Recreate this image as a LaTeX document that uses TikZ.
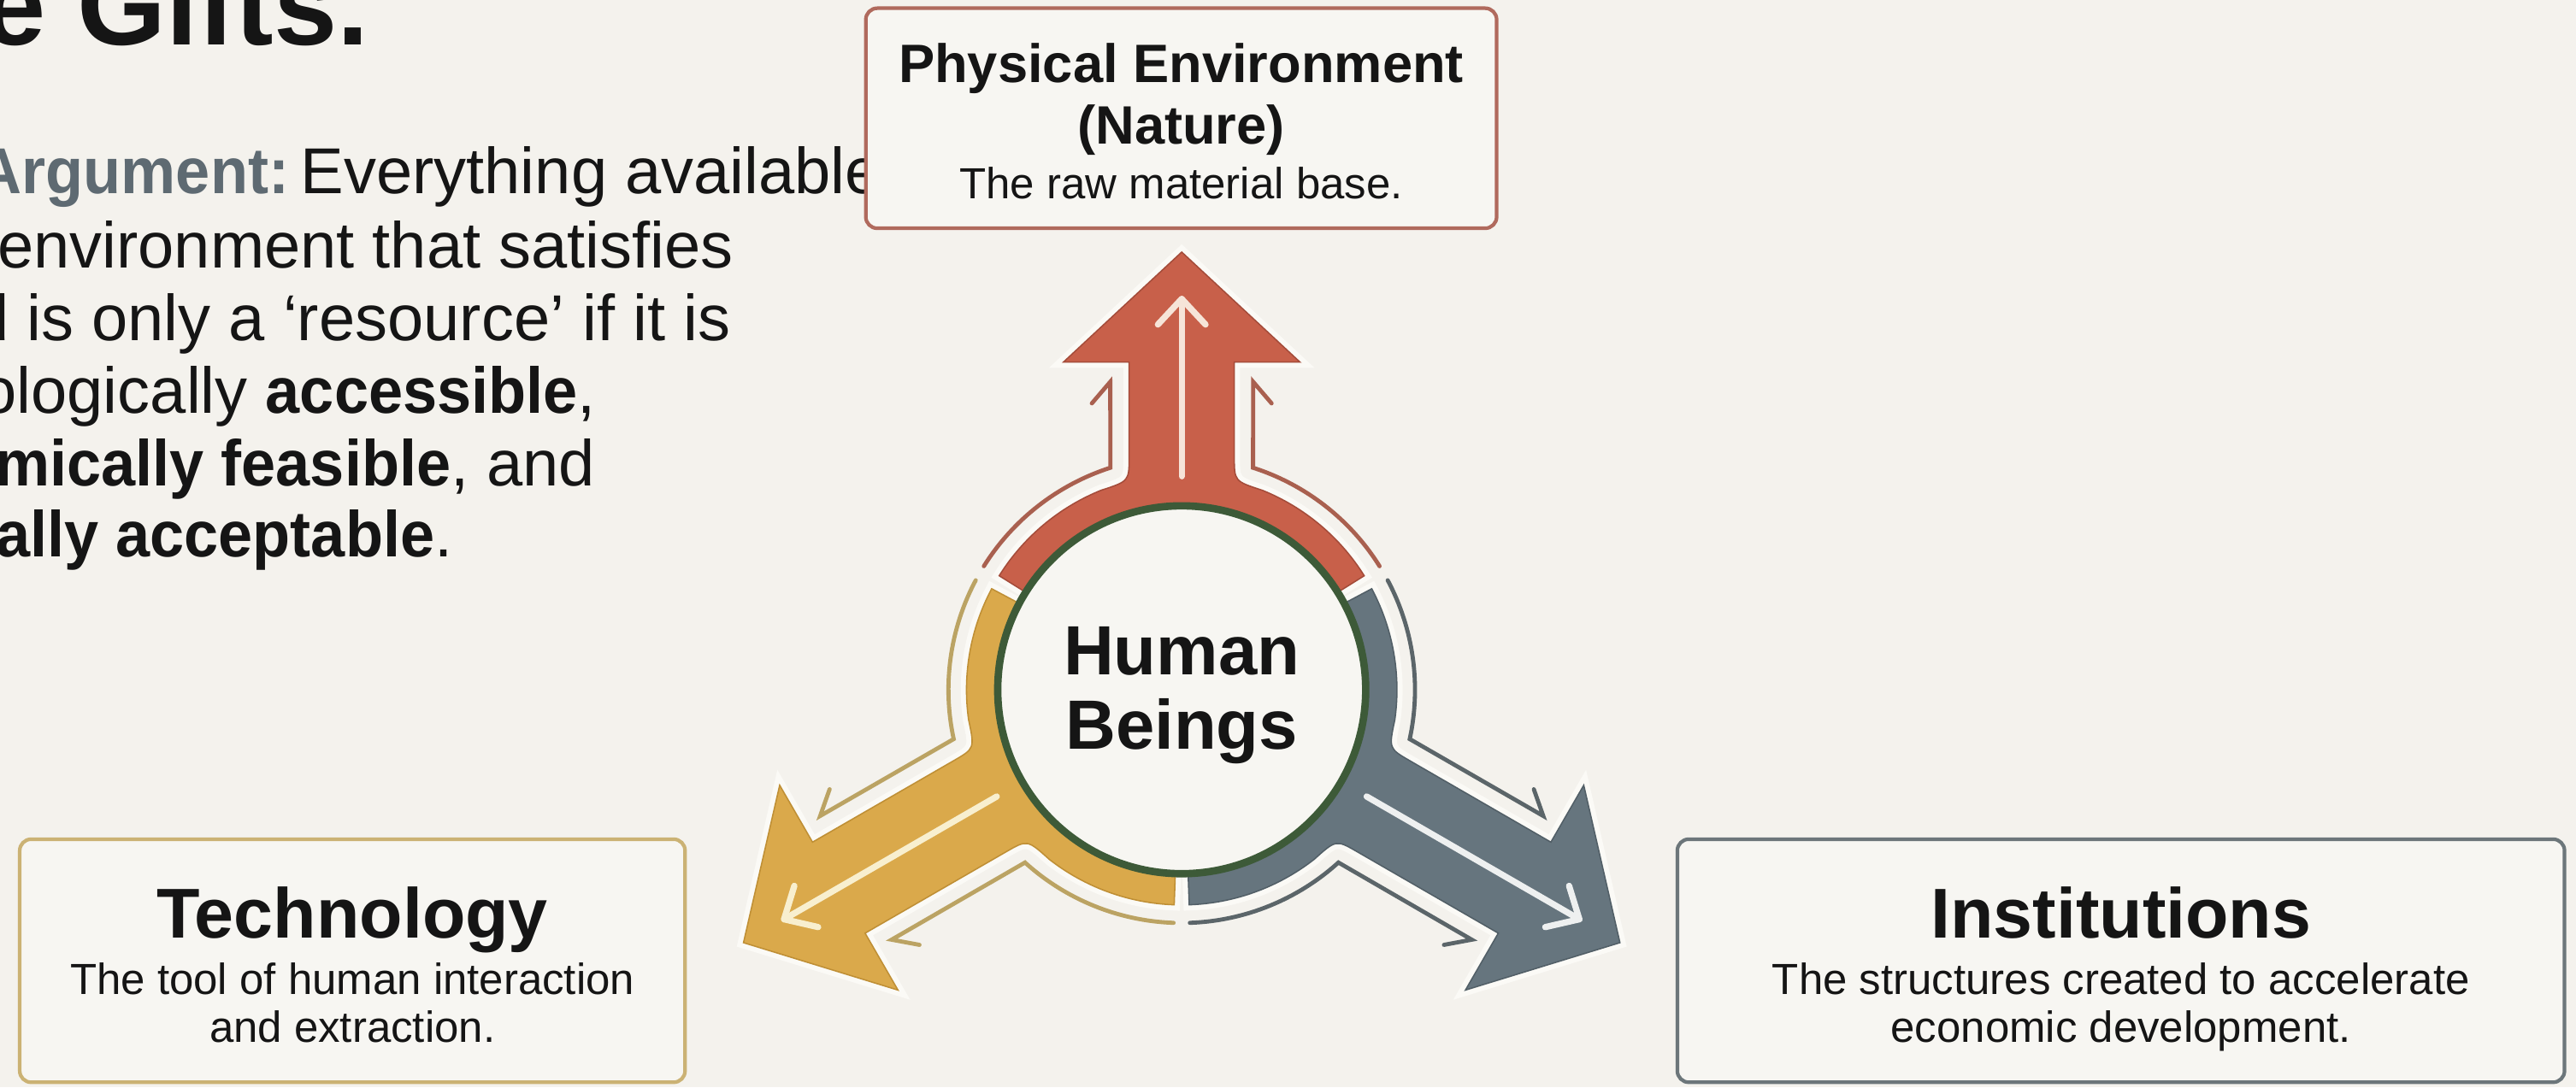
\documentclass[tikz,border=0pt]{standalone}
\usepackage{fontspec}
\setmainfont{Liberation Sans}
\newfontfamily\bodyfont[BoldFeatures={FakeStretch=0.95}]{Liberation Sans}

\definecolor{bgcol}{HTML}{F4F2ED}
\definecolor{panelfill}{HTML}{F7F6F2}
\definecolor{ink}{HTML}{151515}
\definecolor{argcol}{HTML}{5E6A72}
\definecolor{halocol}{HTML}{FBFAF6}
\definecolor{rustfill}{HTML}{C8604A}
\definecolor{rustedge}{HTML}{A44C3A}
\definecolor{rustthin}{HTML}{A9604F}
\definecolor{rustinner}{HTML}{F6E4D8}
\definecolor{goldfill}{HTML}{DAA94B}
\definecolor{goldedge}{HTML}{BF8F35}
\definecolor{goldthin}{HTML}{BBA363}
\definecolor{goldinner}{HTML}{F8EFCF}
\definecolor{slatefill}{HTML}{66757E}
\definecolor{slateedge}{HTML}{525F67}
\definecolor{slatethin}{HTML}{5B6569}
\definecolor{slateinner}{HTML}{EEF0F0}
\definecolor{ringgreen}{HTML}{3D5A38}
\definecolor{physedge}{HTML}{B06A5D}
\definecolor{techedge}{HTML}{CBB274}
\definecolor{instedge}{HTML}{6C767A}

% one spoke of the hub: band segment + block arrow + outline arrows
% #1 rotation, #2 tip distance, #3 fill, #4 edge, #5 thin lines, #6 inner line
\newcommand{\spokearrow}[6]{%
  \begin{scope}[shift={(hubc)}, rotate=#1]
    \pgfmathsetmacro{\tipd}{#2}
    \pgfmathsetmacro{\based}{#2-67}
    \pgfmathsetmacro{\barbd}{#2-79}
    \pgfmathsetmacro{\barbe}{#2-92.1}
    \pgfmathsetmacro{\innd}{#2-28.5}
    \pgfmathsetmacro{\chev}{#2-44.1}
    \path[fill=#3, draw=#4, line width=0.44pt, line join=miter,
          preaction={draw=halocol, line width=3.8pt}]
      (148:131) arc[start angle=148, end angle=112, radius=131]
      .. controls (-32,127) .. (-32,142)
      -- (-32,\based) -- (-72,\based) -- (0,\tipd) -- (72,\based) -- (32,\based)
      -- (32,142) .. controls (32,127) .. (68:131)
      arc[start angle=68, end angle=32, radius=131]
      -- (32:113) arc[start angle=32, end angle=148, radius=113] -- cycle;
    \draw[thinline, draw=#5] (148:142) arc[start angle=148, end angle=107.8, radius=142]
      -- (-43.5,\barbd) -- (-54.7,\barbe);
    \draw[thinline, draw=#5] (32:142) arc[start angle=32, end angle=72.2, radius=142]
      -- (43.5,\barbd) -- (54.7,\barbe);
    \draw[innerline, draw=#6] (0,130) -- (0,\innd);
    \draw[innerline, draw=#6] (-14.5,\chev) -- (0,\innd) -- (14.5,\chev);
  \end{scope}}

\begin{document}
\begin{tikzpicture}[x=0.54675pt, y=0.54675pt,
  thinline/.style={line width=1.37pt, line cap=round, line join=miter},
  innerline/.style={line width=2.08pt, line cap=round, line join=round},
  txt/.style={inner sep=0pt, outer sep=0pt, anchor=base, text=ink},
  bodyline/.style={inner sep=0pt, outer sep=0pt, anchor=base west, text=ink,
    font=\bodyfont\fontsize{21.6}{24}\selectfont},
  panel/.style={draw=#1, fill=panelfill, rounded corners=3.8pt, line width=1.2pt,
    inner sep=0pt},
  headtxt/.style={txt, font=\bfseries\fontsize{23.5}{26}\selectfont},
  subtxt/.style={txt, font=\fontsize{14.5}{16}\selectfont},
]
\useasboundingbox (0,0) rectangle (1568,662);
\clip (0,0) rectangle (1568,662);
\fill[bgcol] (0,0) rectangle (1568,662);

% heading and argument text
\node[inner sep=0pt, outer sep=0pt, anchor=base west, text=ink,
      font=\bfseries\fontsize{38}{40}\selectfont] (title) at (-10.9,634.5) {e Gifts.};

\node[inner sep=0pt, outer sep=0pt, anchor=base east, text=argcol,
      font=\bodyfont\bfseries\fontsize{21.6}{24}\selectfont] (argkey) at (176,544) {Argument:};
\node[bodyline] (line1) at (183,544) {Everything available};
\node[bodyline] (line2) at (-1.5,499) {environment that satisfies};
\node[bodyline] (line3) at (-16.5,454.7) {d is only a ‘resource’ if it is};
\node[bodyline] (line4) at (-11.7,410.5) {ologically \textbf{accessible},};
\node[bodyline] (line5) at (-3,366.3) {\textbf{mically feasible}, and};
\node[bodyline] (line6) at (-2.5,323) {\textbf{ally acceptable}.};

% hub and spokes
\coordinate (hubc) at (719.3,242);
\spokearrow{0}{266.5}{rustfill}{rustedge}{rustthin}{rustinner}
\spokearrow{120}{308}{goldfill}{goldedge}{goldthin}{goldinner}
\spokearrow{240}{308}{slatefill}{slateedge}{slatethin}{slateinner}

\node[circle, draw=ringgreen, line width=2.46pt, fill=panelfill,
      minimum size=122.47pt, inner sep=0pt] (hub) at (hubc) {};
\node[txt, font=\bfseries\fontsize{23.2}{25}\selectfont] (hubA) at (719.3,251) {Human};
\node[txt, font=\bfseries\fontsize{23.2}{25}\selectfont] (hubB) at (719.3,205.6) {Beings};

% top panel
\node[panel=physedge, minimum width=209.95pt, minimum height=73.26pt] (phys) at (719,590) {};
\node[txt, font=\bfseries\fontsize{18}{20}\selectfont] (physA) at (719,612) {Physical Environment};
\node[txt, font=\bfseries\fontsize{18}{20}\selectfont] (physB) at (719,574.4) {(Nature)};
\node[subtxt] (physC) at (719,541) {The raw material base.};

% lower left panel
\node[panel=techedge, minimum width=221.43pt, minimum height=80.92pt] (tech) at (214.5,77) {};
\node[headtxt] (techA) at (214.5,91) {Technology};
\node[subtxt] (techB) at (214.5,56.5) {The tool of human interaction};
\node[subtxt] (techC) at (214.5,27.5) {and extraction.};

% lower right panel
\node[panel=instedge, minimum width=295.25pt, minimum height=80.92pt] (inst) at (1291,77) {};
\node[headtxt] (instA) at (1291,91) {Institutions};
\node[subtxt] (instB) at (1291,56.5) {The structures created to accelerate};
\node[subtxt] (instC) at (1291,27.5) {economic development.};
\end{tikzpicture}
\end{document}
